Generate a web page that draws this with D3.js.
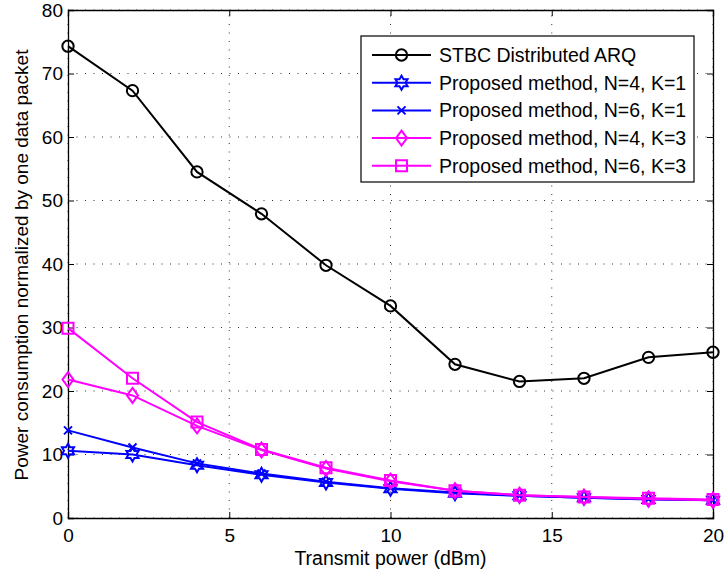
<!DOCTYPE html>
<html>
<head>
<meta charset="UTF-8">
<title>Power consumption vs transmit power</title>
<script src="https://d3js.org/d3.v7.min.js"></script>
<style>
body { margin: 0; background: #fff; }
text { font-family: "Liberation Sans", Arial, sans-serif; fill: #000; }
</style>
</head>
<body>
<figure class="chart" style="margin:0"></figure>
<script type="text/javascript">

/* Data */
var txPower = [0, 2, 4, 6, 8, 10, 12, 14, 16, 18, 20];
var stbcArq = [74.3, 67.3, 54.5, 47.9, 39.8, 33.4, 24.2, 21.5, 22.0, 25.3, 26.1];
var n4k1 = [10.6, 10.0, 8.3, 6.8, 5.6, 4.6, 3.9, 3.5, 3.2, 2.9, 2.8];
var n6k1 = [13.8, 11.1, 8.6, 7.0, 5.7, 4.7, 4.0, 3.5, 3.2, 3.0, 2.8];
var n4k3 = [21.8, 19.3, 14.5, 10.7, 7.8, 5.8, 4.3, 3.6, 3.3, 3.0, 2.8];
var n6k3 = [29.9, 22.0, 15.1, 10.8, 7.9, 5.9, 4.3, 3.6, 3.3, 3.1, 2.9];
var seriesNames = ['STBC Distributed ARQ', 'Proposed method, N=4, K=1', 'Proposed method, N=6, K=1',
	'Proposed method, N=4, K=3', 'Proposed method, N=6, K=3'];
var xTicks = [0, 5, 10, 15, 20];
var yTicks = [0, 10, 20, 30, 40, 50, 60, 70, 80];

/* Global variables */
var W = 725, H = 576;
var margin = {left: 68, right: 12, top: 10, bottom: 58};
var x = d3.scaleLinear().domain([0, 20]).range([margin.left, W - margin.right]);
var y = d3.scaleLinear().domain([0, 80]).range([H - margin.bottom, margin.top]);
var series = [
	{name: seriesNames[0], values: stbcArq, color: '#000000', marker: 'circle'},
	{name: seriesNames[1], values: n4k1, color: '#0000ff', marker: 'hexagram'},
	{name: seriesNames[2], values: n6k1, color: '#0000ff', marker: 'cross'},
	{name: seriesNames[3], values: n4k3, color: '#ff00ff', marker: 'diamond'},
	{name: seriesNames[4], values: n6k3, color: '#ff00ff', marker: 'square'}
];

var svg = d3.select('figure').append('svg')
	.attr('width', W)
	.attr('height', H);

/* Functions */

function markerPath(type) {
	if (type == 'circle') return d3.symbol(d3.symbolCircle, 100)();
	if (type == 'square') return 'M-5.5,-5.5H5.5V5.5H-5.5Z';
	if (type == 'diamond') return 'M0,-7.5L5.5,0L0,7.5L-5.5,0Z';
	if (type == 'cross') return 'M-4,-4L4,4M-4,4L4,-4';
	// six pointed star
	var pts = [];
	for (var i = 0; i < 12; i++) {
		var a = -Math.PI / 2 + i * Math.PI / 6;
		var r = (i % 2 == 0) ? 7 : 4;
		pts.push([r * Math.cos(a), r * Math.sin(a)]);
	}
	return 'M' + pts.join('L') + 'Z';
}

function draw_grid() {
	var g = svg.append('g').attr('class', 'grid');
	g.selectAll('.gx').data(xTicks).enter().append('line')
		.attr('x1', d => x(d)).attr('x2', d => x(d))
		.attr('y1', y(0)).attr('y2', y(80))
		.style('stroke', '#333').style('stroke-width', 1).style('stroke-dasharray', '1,7.5');
	g.selectAll('.gy').data(yTicks).enter().append('line')
		.attr('y1', d => y(d)).attr('y2', d => y(d))
		.attr('x1', x(0)).attr('x2', x(20))
		.style('stroke', '#333').style('stroke-width', 1).style('stroke-dasharray', '1,7.5');
}

function draw_axes() {
	var fs = '19px';
	svg.append('g')
		.attr('transform', 'translate(0,' + y(0) + ')')
		.call(d3.axisBottom(x).tickValues(xTicks).tickSize(-6).tickPadding(11).tickFormat(d3.format('d')));
	svg.append('g')
		.attr('transform', 'translate(0,' + y(80) + ')')
		.call(d3.axisTop(x).tickValues(xTicks).tickSize(-6).tickFormat(''));
	svg.append('g')
		.attr('transform', 'translate(' + x(0) + ',0)')
		.call(d3.axisLeft(y).tickValues(yTicks).tickSize(-6).tickPadding(5).tickFormat(d3.format('d')));
	svg.append('g')
		.attr('transform', 'translate(' + x(20) + ',0)')
		.call(d3.axisRight(y).tickValues(yTicks).tickSize(-6).tickFormat(''));
	svg.selectAll('.domain').style('stroke', '#000').style('stroke-width', 1.3);
	svg.selectAll('.tick line').style('stroke', '#000');
	svg.selectAll('.tick text').style('font-size', fs).style('font-family', '"Liberation Sans", Arial, sans-serif');

	svg.append('text')
		.attr('x', (x(0) + x(20)) / 2)
		.attr('y', 565)
		.attr('text-anchor', 'middle')
		.style('font-size', '19.5px')
		.text('Transmit power (dBm)');
	svg.append('text')
		.attr('transform', 'translate(28,' + ((y(0) + y(80)) / 2 + 1) + ') rotate(-90)')
		.attr('text-anchor', 'middle')
		.style('font-size', '19px')
		.text('Power consumption normalized by one data packet');
}

function draw_series() {
	var line = d3.line().x((d, i) => x(txPower[i])).y(d => y(d));
	series.forEach(function(s) {
		var g = svg.append('g');
		g.append('path')
			.attr('d', line(s.values))
			.style('fill', 'none')
			.style('stroke', s.color)
			.style('stroke-width', 2);
		g.selectAll('path.m').data(s.values).enter().append('path')
			.attr('class', 'm')
			.attr('d', markerPath(s.marker))
			.attr('transform', (d, i) => 'translate(' + x(txPower[i]) + ',' + y(d) + ')')
			.style('fill', 'none')
			.style('stroke', s.color)
			.style('stroke-width', 2);
	});
}

function draw_legend() {
	var lx = 361, ly = 36, lw = 333, lh = 146;
	var g = svg.append('g');
	g.append('rect')
		.attr('x', lx).attr('y', ly).attr('width', lw).attr('height', lh)
		.style('fill', '#fff').style('stroke', '#000').style('stroke-width', 1.2);
	series.forEach(function(s, i) {
		var ry = 55 + i * 27.7;
		g.append('line')
			.attr('x1', 372).attr('x2', 431).attr('y1', ry).attr('y2', ry)
			.style('stroke', s.color).style('stroke-width', 2);
		g.append('path')
			.attr('d', markerPath(s.marker))
			.attr('transform', 'translate(401.5,' + ry + ')')
			.style('fill', 'none').style('stroke', s.color).style('stroke-width', 2);
		g.append('text')
			.attr('x', 439).attr('y', ry)
			.attr('dy', '0.35em')
			.style('font-size', '19.5px')
			.text(s.name);
	});
}

/* Main code */
draw_grid()
draw_axes()
draw_series()
draw_legend()

</script>
</body>
</html>
